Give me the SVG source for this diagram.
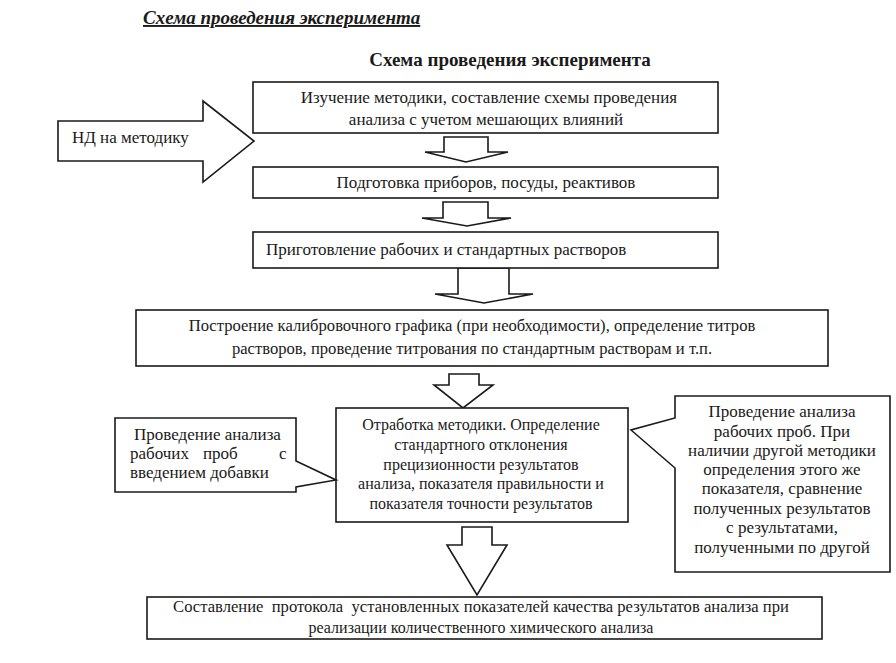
<svg xmlns="http://www.w3.org/2000/svg" width="896" height="663" viewBox="0 0 896 663">
<style>
  text { font-family: "Liberation Serif", "Times New Roman", serif; font-size: 17px; fill: #1a1a1a; }
  .box { fill: #fff; stroke: #1a1a1a; stroke-width: 1.6; }
  .arr { fill: #fff; stroke: #1a1a1a; stroke-width: 1.6; stroke-linejoin: miter; }
  .c { text-anchor: middle; }
  .title { font-weight: bold; font-size: 19px; }
  .ititle { font-weight: bold; font-style: italic; text-decoration: underline; font-size: 19px; }
  .s16 { font-size: 16px; }
  .s166 { font-size: 16.6px; }
</style>
<rect width="896" height="663" fill="#fff"/>

<text id="page-title" class="ititle" x="143" y="24">Схема проведения эксперимента</text>
<text id="diagram-title" class="title c" x="510" y="66">Схема проведения эксперимента</text>

<g id="connectors">
  <polygon id="nd-arrow" class="arr" points="58,121 203,121 203,101 254,141 203,182 203,161 58,161"/>
  <polygon class="arr" points="444,137 488,137 488,152 508,152 466,162 425,152 444,152"/>
  <polygon class="arr" points="443,202 488,202 488,218 511,218 467,226 422,218 443,218"/>
  <polygon class="arr" points="458,268 509,268 509,294 533,294 484,303 435,294 458,294"/>
  <polygon class="arr" points="449,374 479,374 479,385 493,385 463,408 434,385 449,385"/>
  <polygon class="arr" points="462,527 492,527 492,545 507,545 477,595 447,545 462,545"/>
</g>

<g id="node-nd">
  <text x="72" y="143">НД на методику</text>
</g>

<g id="node-study">
  <rect class="box" x="253" y="82" width="465" height="51"/>
  <text class="c" x="489" y="103">Изучение методики, составление схемы проведения</text>
  <text class="c" x="486" y="125">анализа с учетом мешающих влияний</text>
</g>

<g id="node-prep">
  <rect class="box" x="253" y="167" width="465" height="31"/>
  <text class="c" x="486" y="188">Подготовка приборов, посуды, реактивов</text>
</g>

<g id="node-solutions">
  <rect class="box" x="253" y="232" width="465" height="36"/>
  <text x="266" y="255">Приготовление рабочих и стандартных растворов</text>
</g>

<g id="node-calib">
  <rect class="box" x="136" y="310" width="692" height="56"/>
  <text class="c s166" x="472" y="331">Построение калибровочного графика (при необходимости), определение титров</text>
  <text class="c s166" x="472" y="354">растворов, проведение титрования по стандартным растворам и т.п.</text>
</g>

<g id="node-method">
  <rect class="box" x="336" y="408" width="292" height="114"/>
  <text class="c s16" x="481" y="430">Отработка методики. Определение</text>
  <text class="c s16" x="481" y="450">стандартного отклонения</text>
  <text class="c s16" x="481" y="470">прецизионности результатов</text>
  <text class="c s16" x="481" y="489">анализа, показателя правильности и</text>
  <text class="c s16" x="481" y="509">показателя точности результатов</text>
</g>

<g id="node-spike">
  <path class="box" d="M115,418 H296 V461 L336,480 L296,487 V492 H115 Z"/>
  <text x="134" y="440">Проведение анализа</text>
  <text x="130" y="459">рабочих</text>
  <text x="203" y="459">проб</text>
  <text x="279" y="459">с</text>
  <text x="130" y="478">введением добавки</text>
</g>

<g id="node-compare">
  <path class="box" d="M675,396 H890 V572 H675 V468 L631,430 L675,418 Z"/>
  <text class="c" x="782" y="417">Проведение анализа</text>
  <text class="c" x="782" y="437">рабочих проб. При</text>
  <text class="c" x="782" y="456">наличии другой методики</text>
  <text class="c" x="782" y="475">определения этого же</text>
  <text class="c" x="782" y="494">показателя, сравнение</text>
  <text class="c" x="782" y="514">полученных результатов</text>
  <text class="c" x="782" y="533">с результатами,</text>
  <text class="c" x="782" y="553">полученными по другой</text>
</g>

<g id="node-protocol">
  <rect class="box" x="147" y="597" width="675" height="42"/>
  <text class="c s166" x="481" y="612" style="white-space:pre">Составление  протокола  установленных показателей качества результатов анализа при</text>
  <text class="c s16" x="481" y="633">реализации количественного химического анализа</text>
</g>
</svg>
